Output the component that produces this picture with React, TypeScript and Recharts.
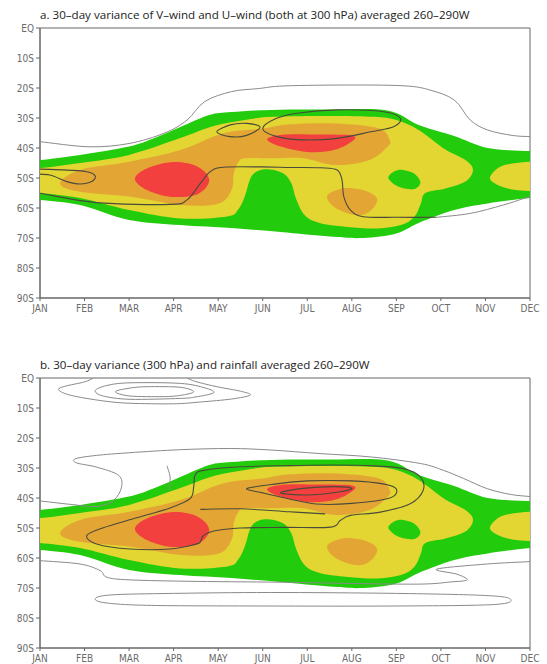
import React from 'react';
import { ComposedChart, Scatter, XAxis, YAxis, ReferenceArea } from 'recharts';

// axis labels
const months = ['JAN', 'FEB', 'MAR', 'APR', 'MAY', 'JUN', 'JUL', 'AUG', 'SEP', 'OCT', 'NOV', 'DEC'];
const monthTicks = [0, 1, 2, 3, 4, 5, 6, 7, 8, 9, 10, 11];
const latTicks = [0, 10, 20, 30, 40, 50, 60, 70, 80, 90];
const latLabels = ['EQ', '10S', '20S', '30S', '40S', '50S', '60S', '70S', '80S', '90S'];

type P = [number, number]; // [month index, latitude south]

// shaded variance (same in both panels)
const greenOuter: P[] = [
  [-0.5, 44.5], [0, 44], [0.9, 42.3], [2.0, 39.5], [2.6, 36.5], [3.15, 33], [3.8, 29], [4.3, 28],
  [5.2, 27.3], [6.5, 27.2], [7.8, 27.5], [8.5, 32.3], [9.3, 36], [10.05, 40], [11, 41], [11.5, 41],
  [11.5, 56.5], [11, 56.7], [10.05, 58.5], [9.3, 60.7], [8.5, 65], [8.0, 68.5], [7.25, 70], [6.5, 69.5],
  [5.4, 68], [4.3, 66.7], [3.15, 65.7], [2.0, 64], [0.9, 59], [0, 57.3], [-0.5, 57],
];
const yellowMain: P[] = [
  [-0.5, 47], [0, 46.7], [0.9, 45], [2.0, 42.3], [3.15, 36.7], [3.9, 32.7], [4.6, 30.7], [5.2, 29.6],
  [6.5, 29.3], [7.5, 29.6], [8.0, 30.7], [8.5, 34], [9.1, 40.5], [9.55, 44], [9.72, 47.3], [9.55, 51.2],
  [9.1, 53.5], [8.65, 55], [8.55, 58.5], [8.4, 63], [8.1, 65.7], [7.57, 66.8], [6.9, 66.3], [6.3, 65.1],
  [5.95, 62.5], [5.75, 57], [5.65, 52], [5.5, 48.8], [5.25, 47.3], [5.0, 47.2], [4.8, 48.5], [4.7, 51],
  [4.6, 56], [4.45, 60.5], [4.2, 62.8], [3.15, 63.5], [2.0, 60.7], [0.9, 56.7], [0, 55], [-0.5, 54.5],
];
const yellowDec: P[] = [
  [10.1, 50], [10.3, 46.5], [10.6, 45.2], [11, 44.6], [11.5, 44.5], [11.5, 54.5], [11, 54.3], [10.6, 53.8], [10.3, 52.5],
];
const greenSep: P[] = [
  [7.82, 49.7], [7.95, 47.8], [8.15, 47.3], [8.4, 48.5], [8.54, 51.5], [8.4, 53.7], [8.1, 53.2], [7.9, 51.5],
];
const orangeMain: P[] = [
  [0.45, 51.8], [0.9, 47.3], [2.0, 44.6], [3.15, 40.7], [3.9, 36.2], [4.3, 34.5], [5.0, 33.5], [5.6, 32.1],
  [6.64, 31.8], [7.6, 33.4], [7.85, 37.3], [7.8, 39.6], [7.4, 44], [6.64, 45.7], [5.9, 43.4], [5.2, 43.4],
  [4.6, 43.4], [4.45, 44.8], [4.35, 48.4], [4.3, 54], [4.0, 58.6], [3.15, 59], [2.0, 56.2], [0.9, 54.6],
];
const orangeAug: P[] = [
  [6.45, 55.8], [6.7, 53.8], [7.0, 53.4], [7.35, 54.5], [7.57, 57], [7.45, 60.5], [7.2, 62.4], [6.85, 61.5], [6.55, 59],
];
const redApr: P[] = [
  [2.13, 50.3], [2.4, 46.8], [3.0, 44.7], [3.55, 46.3], [3.8, 50.7], [3.55, 55.3], [2.95, 56.3], [2.4, 54],
];
const redJul: P[] = [
  [5.1, 37], [5.5, 35.5], [6.3, 35.5], [7.0, 35.8], [7.03, 37.5], [6.64, 40.5], [6.07, 41.4], [5.4, 39.5],
];

// panel a contours
const aGrayTop: P[] = [
  [-0.2, 37.9], [0, 37.9], [1.1, 39.6], [2.0, 38.5], [2.8, 35], [3.3, 30.7], [3.7, 24.5], [4.3, 21.2],
  [4.9, 20.2], [5.5, 19.3], [7.0, 19], [8.2, 19.3], [8.76, 20.7], [9.3, 24], [9.66, 30.7], [10.05, 34],
  [10.6, 35.8], [11, 36.2], [11.2, 36.2],
];
const aDarkLong: P[] = [
  [-0.2, 55], [0, 55.1], [1.27, 58.2], [2.92, 58.8], [3.3, 57.3], [3.6, 51.8], [3.82, 47.9], [4.12, 46.4],
  [5.0, 46.3], [5.62, 46.5], [6.3, 46.6], [6.67, 47.3], [6.78, 50.7], [6.82, 56.2], [6.97, 60.7], [7.26, 62.9],
  [8.0, 63.1], [8.9, 63.1],
];
const aGrayLow: P[] = [[8.9, 63.1], [9.66, 61.8], [10.4, 59], [11, 56.2], [11.2, 55.8]];
const aJanLoop: P[] = [
  [-0.2, 47.1], [0.52, 47.3], [1.05, 47.9], [1.24, 49.3], [1.16, 51.2], [0.9, 52], [0.6, 51.2], [0.22, 49], [-0.2, 48.5],
];
const aMayLoop: P[] = [[3.97, 34.6], [4.27, 32.3], [4.64, 31.8], [4.94, 33.1], [4.64, 35.8], [4.27, 36.2]];
const aJulLoop: P[] = [
  [5.0, 33.5], [5.3, 30.2], [5.77, 28.4], [6.67, 27.3], [7.71, 27.9], [8.09, 30.1], [7.94, 32.9],
  [7.42, 34.6], [6.67, 36.8], [5.92, 37.3], [5.32, 36.2],
];

// panel b contours
const bEqOuter: P[] = [
  [1.2, 0], [1.0, 1.3], [0.55, 2.8], [0.42, 4], [0.7, 5.8], [1.4, 7.6], [2.0, 8.4], [3.0, 8.6],
  [3.6, 8.0], [4.3, 7], [4.72, 5.7], [4.5, 4.4], [3.97, 2.9], [3.5, 1.2], [3.3, 0],
];
const bEqMid: P[] = [
  [1.24, 4.2], [1.5, 2.5], [2.02, 1.6], [3.15, 1.8], [3.7, 3.3], [3.9, 4.9], [3.5, 6.3], [3.15, 6.8], [2.02, 7.1], [1.42, 6],
];
const bEqInner: P[] = [
  [1.69, 4.6], [2.0, 3.4], [2.4, 2.9], [3.15, 3.1], [3.45, 4.6], [3.15, 5.8], [2.77, 6.2], [2.02, 6],
];
const bGrayMid: P[] = [
  [-0.2, 41], [0, 41], [0.67, 42.1], [1.27, 42.8], [1.65, 40.8], [1.83, 36.4], [1.76, 32.4], [1.27, 29.7],
  [0.82, 28.3], [0.8, 26.9], [1.27, 25.8], [2.02, 24.9], [3.15, 23.9], [4.27, 23.5], [5.17, 24.0],
  [6.29, 25.2], [7.42, 26.3], [8.54, 28.5], [9.06, 30.8], [9.51, 33.5], [10.04, 36.9], [10.56, 38.8],
  [11, 39.5], [11.2, 39.6],
];
const bGraySeg: P[] = [[2.85, 29.3], [2.92, 33], [2.9, 37.5]];
const bGrayLow: P[] = [
  [-0.2, 60.9], [0, 60.9], [0.9, 62], [1.35, 64.2], [1.5, 66.4], [2.02, 67.3], [3.52, 67.8], [5.62, 68.1],
  [7.0, 68.5], [8.54, 68.7], [9.21, 68], [9.59, 67.3], [9.36, 65.4], [8.91, 63.7], [10.04, 62], [11, 61.2], [11.2, 61.1],
];
const bGrayBottom: P[] = [
  [1.24, 73.6], [1.6, 72.3], [3, 71.8], [5.17, 71.5], [8, 71.8], [10, 72.5], [10.56, 73.7], [10.2, 75.5],
  [8, 76], [5, 76], [2.5, 75.8], [1.5, 75],
];
const bDarkBig: P[] = [
  [1.05, 52.5], [1.42, 49.9], [2.17, 46.6], [2.92, 43.3], [3.37, 40.2], [3.45, 36.3], [3.48, 32.4], [3.67, 30.8],
  [4.5, 29.6], [5.62, 29.2], [6.6, 29], [7.5, 29.3], [8.16, 30.2], [8.54, 33], [8.6, 37.5], [8.31, 41.9],
  [7.64, 44.7], [6.97, 45.8], [6.74, 47.5], [6.52, 49.7], [5.5, 49.8], [4.5, 50], [3.9, 51], [3.67, 52.5],
  [3.6, 54.5], [3.52, 55.3], [2.92, 57], [2.02, 57], [1.27, 55.3],
];
const bDarkMid: P[] = [
  [4.64, 36.9], [5.2, 35.5], [6, 34.3], [7, 34.3], [7.7, 35.3], [8, 37], [7.85, 40], [7, 41.8], [6.2, 42], [5.5, 40], [5.0, 38.3],
];
const bDarkInner: P[] = [[5.4, 38.3], [5.9, 36.8], [6.6, 36.2], [7.0, 36.8], [6.7, 38.0], [6.0, 39.0]];
const bDarkSeg: P[] = [[3.6, 43.8], [4.5, 43.6], [5.6, 44.6], [6.4, 45.3]];

const GREEN = '#22cc0c';
const YELLOW = '#e3d633';
const ORANGE = '#e3a634';
const RED = '#f2403f';
const GRAY = '#8a8a8a';
const DARK = '#4a4a3a';

type Layer = { data: P[]; fill?: string; stroke?: string; closed: boolean };

const fills: Layer[] = [
  { data: greenOuter, fill: GREEN, closed: true },
  { data: yellowMain, fill: YELLOW, closed: true },
  { data: yellowDec, fill: YELLOW, closed: true },
  { data: greenSep, fill: GREEN, closed: true },
  { data: orangeMain, fill: ORANGE, closed: true },
  { data: orangeAug, fill: ORANGE, closed: true },
  { data: redApr, fill: RED, closed: true },
  { data: redJul, fill: RED, closed: true },
];

const linesA: Layer[] = [
  { data: aGrayTop, stroke: GRAY, closed: false },
  { data: aGrayLow, stroke: GRAY, closed: false },
  { data: aDarkLong, stroke: DARK, closed: false },
  { data: aJanLoop, stroke: DARK, closed: true },
  { data: aMayLoop, stroke: DARK, closed: true },
  { data: aJulLoop, stroke: DARK, closed: true },
];

const linesB: Layer[] = [
  { data: bEqOuter, stroke: GRAY, closed: false },
  { data: bEqMid, stroke: GRAY, closed: true },
  { data: bEqInner, stroke: GRAY, closed: true },
  { data: bGrayMid, stroke: GRAY, closed: false },
  { data: bGraySeg, stroke: GRAY, closed: false },
  { data: bGrayLow, stroke: GRAY, closed: false },
  { data: bGrayBottom, stroke: GRAY, closed: true },
  { data: bDarkBig, stroke: DARK, closed: true },
  { data: bDarkMid, stroke: DARK, closed: true },
  { data: bDarkInner, stroke: DARK, closed: true },
  { data: bDarkSeg, stroke: DARK, closed: false },
];

// catmull-rom through the pixel points that recharts gives the scatter line
function smoothPath(pts: { x: number; y: number }[], closed: boolean) {
  const n = pts.length;
  if (n < 2) return '';
  const get = (i: number) => (closed ? pts[(i + n) % n] : pts[Math.max(0, Math.min(n - 1, i))]);
  let d = `M${pts[0].x},${pts[0].y}`;
  const segs = closed ? n : n - 1;
  for (let i = 0; i < segs; i++) {
    const p0 = get(i - 1), p1 = get(i), p2 = get(i + 1), p3 = get(i + 2);
    const c1x = p1.x + (p2.x - p0.x) / 6, c1y = p1.y + (p2.y - p0.y) / 6;
    const c2x = p2.x - (p3.x - p1.x) / 6, c2y = p2.y - (p3.y - p1.y) / 6;
    d += ` C${c1x},${c1y} ${c2x},${c2y} ${p2.x},${p2.y}`;
  }
  return closed ? d + ' Z' : d;
}

const noDot = () => <g />;
const toPts = (arr: P[]) => arr.map(([x, y]) => ({ x, y }));

function renderLayer(l: Layer, key: string) {
  const line = (props: any) => (
    <path
      d={smoothPath(props.points, l.closed)}
      fill={l.fill ?? 'none'}
      stroke={l.stroke ?? 'none'}
      strokeWidth={l.stroke === DARK ? 1.1 : 1}
    />
  );
  return (
    <Scatter
      key={key}
      data={toPts(l.data)}
      dataKey="y"
      line={line}
      lineType="joint"
      shape={noDot}
      isAnimationActive={false}
    />
  );
}

const tickStyle = { fontSize: 10, fill: '#6a6a6a', fontFamily: '"DejaVu Sans Condensed", "Liberation Sans Narrow", Roboto, sans-serif' };

function Panel({ title, lines, top }: { title: string; lines: Layer[]; top: number }) {
  return (
    <div style={{ position: 'absolute', left: 0, top, width: 547, height: 330 }}>
      <div
        style={{
          position: 'absolute', left: 40, top: 9, fontSize: 11.6, lineHeight: '12px', color: '#222',
          fontFamily: '"Open Sans", sans-serif', whiteSpace: 'nowrap',
        }}
      >
        {title}
      </div>
      <ComposedChart width={547} height={330} margin={{ top: 28, right: 17, bottom: 0, left: 0 }}>
        <XAxis
          type="number"
          dataKey="x"
          domain={[0, 11]}
          ticks={monthTicks}
          tickFormatter={(v: number) => months[v]}
          allowDataOverflow
          height={32}
          tickSize={3}
          tickMargin={4}
          stroke="#666"
          tick={tickStyle}
          interval={0}
        />
        <YAxis
          type="number"
          dataKey="y"
          domain={[0, 90]}
          reversed
          ticks={latTicks}
          tickFormatter={(v: number) => latLabels[v / 10]}
          allowDataOverflow
          width={40}
          tickSize={4}
          tickMargin={2}
          stroke="#666"
          tick={tickStyle}
          interval={0}
        />
        {fills.map((l, i) => renderLayer(l, 'f' + i))}
        {lines.map((l, i) => renderLayer(l, 'l' + i))}
        <ReferenceArea x1={0} x2={11} y1={0} y2={90} fill="none" stroke="#666" strokeWidth={1} ifOverflow="visible" />
      </ComposedChart>
    </div>
  );
}

export default function App() {
  return (
    <div style={{ position: 'absolute', left: 0, top: 0, width: 547, height: 664, background: '#fff' }}>
      <Panel
        top={0}
        title="a. 30–day variance of V–wind and U–wind (both at 300 hPa) averaged 260–290W"
        lines={linesA}
      />
      <Panel top={350} title="b. 30–day variance (300 hPa) and rainfall averaged 260–290W" lines={linesB} />
    </div>
  );
}
